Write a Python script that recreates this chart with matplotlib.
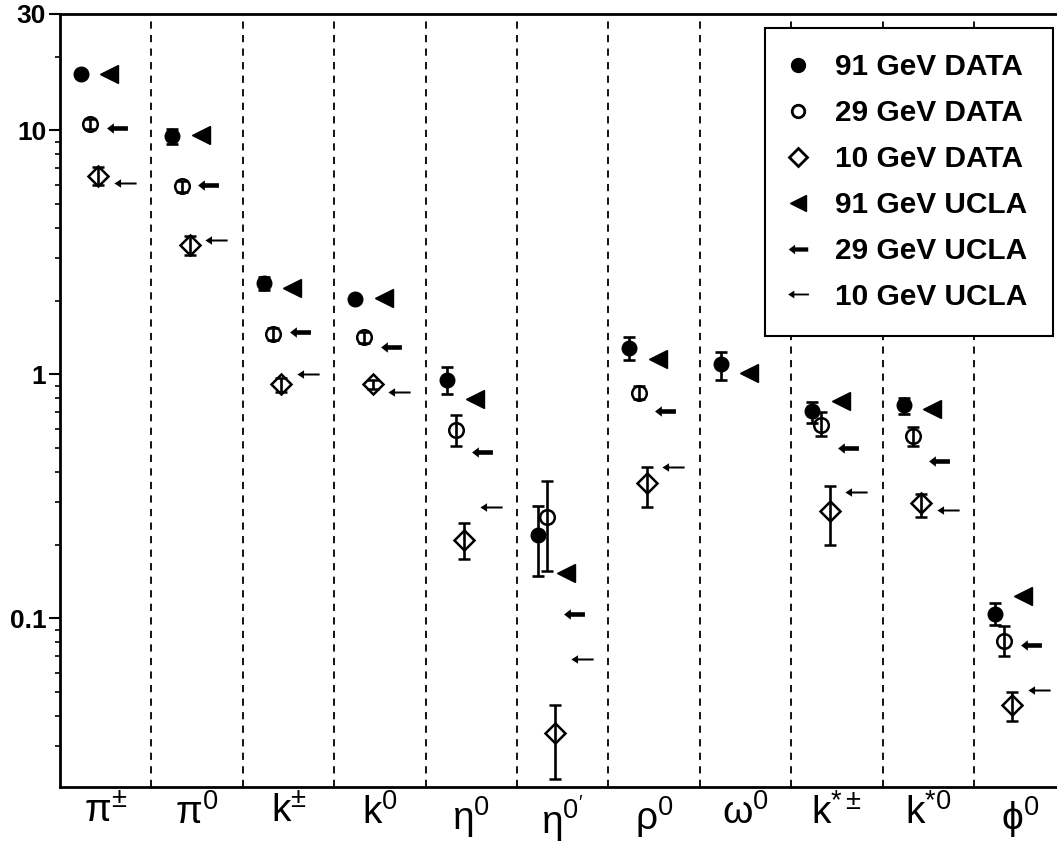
# Particle production rates at 91, 29 and 10 GeV compared with the UCLA model
import numpy as np
import matplotlib
matplotlib.use("Agg")
from matplotlib import pyplot as plt
from matplotlib.path import Path
from matplotlib.lines import Line2D

plt.rcParams['font.family'] = ['Liberation Sans', 'DejaVu Sans']
plt.rcParams['mathtext.fontset'] = 'custom'
plt.rcParams['mathtext.rm'] = 'Liberation Sans'
plt.rcParams['mathtext.it'] = 'Liberation Sans:italic'
plt.rcParams['mathtext.bf'] = 'Liberation Sans:bold'
plt.rcParams['mathtext.default'] = 'rm'

particles = [r"$\pi^{\pm}$", r"$\pi^{0}$", r"k$^{\pm}$", r"k$^{0}$", r"$\eta^{0}$",
             r"$\eta^{0'}$", r"$\rho^{0}$", r"$\omega^{0}$", r"k$^{*\pm}$",
             r"k$^{*0}$", r"$\phi^{0}$"]

nan = np.nan
# measured rates with lower / upper error limits
data_91 = [17.0, 9.5, 2.36, 2.03, 0.95, 0.22, 1.28, 1.10, 0.71, 0.75, 0.104]
lo_91 = [16.6, 8.8, 2.22, 1.97, 0.83, 0.15, 1.15, 0.95, 0.63, 0.69, 0.094]
hi_91 = [17.4, 10.1, 2.50, 2.09, 1.07, 0.29, 1.43, 1.24, 0.77, 0.80, 0.116]

data_29 = [10.6, 5.9, 1.46, 1.42, 0.59, 0.26, 0.84, nan, 0.62, 0.56, 0.081]
lo_29 = [10.1, 5.6, 1.38, 1.35, 0.51, 0.157, 0.79, nan, 0.56, 0.51, 0.070]
hi_29 = [11.1, 6.2, 1.55, 1.49, 0.68, 0.365, 0.90, nan, 0.70, 0.61, 0.093]

data_10 = [6.5, 3.4, 0.91, 0.91, 0.21, 0.034, 0.36, nan, 0.275, 0.296, 0.044]
lo_10 = [6.0, 3.1, 0.85, 0.87, 0.176, 0.022, 0.285, nan, 0.20, 0.26, 0.038]
hi_10 = [7.1, 3.68, 0.97, 0.95, 0.247, 0.044, 0.416, nan, 0.348, 0.325, 0.050]

# UCLA model predictions
ucla_91 = [17.0, 9.6, 2.25, 2.05, 0.79, 0.153, 1.16, 1.01, 0.78, 0.725, 0.124]
ucla_29 = [10.2, 5.95, 1.49, 1.30, 0.48, 0.104, 0.71, nan, 0.50, 0.44, 0.078]
ucla_10 = [6.06, 3.54, 1.0, 0.85, 0.285, 0.068, 0.416, nan, 0.33, 0.277, 0.051]

# left-pointing arrow markers (thick and thin)
thick_arrow = Path([(-1, 0), (-0.35, 0.5), (-0.35, 0.22), (1, 0.22), (1, -0.22),
                    (-0.35, -0.22), (-0.35, -0.5), (-1, 0)], closed=True)
thin_arrow = Path([(-1, 0), (-0.4, 0.38), (-0.4, 0.09), (1, 0.09), (1, -0.09),
                   (-0.4, -0.09), (-0.4, -0.38), (-1, 0)], closed=True)

fig = plt.figure(figsize=(10.57, 8.47), dpi=100)
ax = fig.add_axes([0.0568, 0.0709, 0.9512, 0.9126])

x = np.arange(len(particles))


def errs(val, lo, hi):
    val, lo, hi = np.array(val), np.array(lo), np.array(hi)
    return [val - lo, hi - val]


eb = dict(ecolor='k', elinewidth=1.9, capsize=4, capthick=1.9, ls='none', zorder=3)
ax.errorbar(x - 0.27, data_91, yerr=errs(data_91, lo_91, hi_91), fmt='o', ms=10.5,
            mfc='k', mec='k', **eb)
ax.errorbar(x - 0.17, data_29, yerr=errs(data_29, lo_29, hi_29), fmt='o', ms=10.5,
            mfc='none', mec='k', mew=1.8, **eb)
ax.errorbar(x - 0.08, data_10, yerr=errs(data_10, lo_10, hi_10), fmt='D', ms=10,
            mfc='none', mec='k', mew=1.8, **eb)

ax.plot(x + 0.04, ucla_91, ls='none', marker='<', ms=13, color='k', zorder=3)
ax.plot(x + 0.12, ucla_29, ls='none', marker=thick_arrow, ms=15, color='k',
        mew=0, zorder=3)
ax.plot(x + 0.21, ucla_10, ls='none', marker=thin_arrow, ms=16, color='k',
        mew=0, zorder=3)

# dashed separators between particle types
for i in range(len(particles) - 1):
    ax.axvline(i + 0.5, color='k', lw=1.3, ls=(0, (4, 3.5)), zorder=1)

ax.set_yscale('log')
ax.set_ylim(0.0204, 30)
ax.set_xlim(-0.5, 10.5)
ax.set_yticks([0.1, 1, 10, 30])
ax.set_yticklabels(['0.1', '1', '10', '30'], fontsize=19, fontweight='bold')
ax.set_xticks(x)
ax.set_xticklabels(particles, fontsize=28)
ax.tick_params(axis='x', length=0, pad=5)
ax.tick_params(axis='y', which='major', direction='out', length=8, width=1.5, pad=2)
ax.tick_params(axis='y', which='minor', direction='out', length=3.5, width=1.2)

for side in ['left', 'bottom', 'top']:
    ax.spines[side].set_linewidth(2)
ax.spines['right'].set_visible(False)

handles = [
    Line2D([], [], ls='none', marker='o', ms=10, mfc='k', mec='k'),
    Line2D([], [], ls='none', marker='o', ms=9, mfc='none', mec='k', mew=2),
    Line2D([], [], ls='none', marker='D', ms=9, mfc='none', mec='k', mew=2),
    Line2D([], [], ls='none', marker='<', ms=12, color='k'),
    Line2D([], [], ls='none', marker=thick_arrow, ms=14, color='k', mew=0),
    Line2D([], [], ls='none', marker=thin_arrow, ms=15, color='k', mew=0),
]
labels = ['91 GeV DATA', '29 GeV DATA', '10 GeV DATA',
          '91 GeV UCLA', '29 GeV UCLA', '10 GeV UCLA']
leg = ax.legend(handles, labels, loc='upper right', bbox_to_anchor=(0.996, 0.967),
                bbox_transform=fig.transFigure, borderaxespad=0, fancybox=False,
                framealpha=1, edgecolor='k', handlelength=0.5, handletextpad=1.0,
                labelspacing=0.6, borderpad=0.85,
                prop={'size': 21.5, 'weight': 'bold'})
leg.get_frame().set_linewidth(1.5)
leg.set_zorder(5)

fig.savefig('out.png', dpi=100)
